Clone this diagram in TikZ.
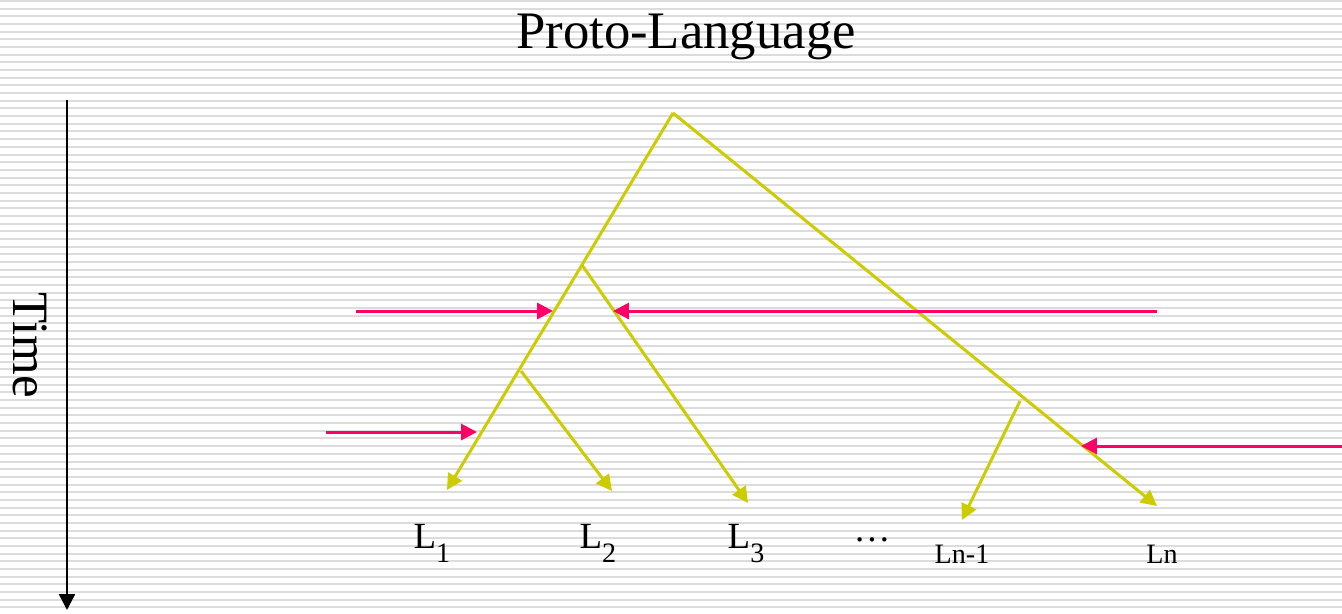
\documentclass[tikz,border=0pt]{standalone}
\usepackage{fontspec}
\setmainfont{Liberation Serif}
\usetikzlibrary{arrows.meta}
\definecolor{stripegrey}{RGB}{220,220,220}
\definecolor{branchyellow}{RGB}{204,204,0}
\definecolor{contactpink}{RGB}{255,0,102}
\newcommand{\lsub}[1]{\raisebox{-0.4em}{\fontsize{16}{16}\selectfont #1}}

\begin{document}
\begin{tikzpicture}[x=0.02cm,y=-0.02cm,
    branch/.style={branchyellow,line width=1.7pt,-{Triangle[length=9pt,width=9pt]}},
    contact/.style={contactpink,line width=1.7pt,-{Triangle[length=9pt,width=9pt]}},
    timeaxis/.style={black,line width=1.4pt,-{Triangle[length=9pt,width=9pt]}},
    lang/.style={font=\fontsize{21}{21}\selectfont,inner sep=0pt,anchor=base}]
     % striped background
     \fill[white] (0,0) rectangle (1342,613);
     \useasboundingbox (0,0) rectangle (1342,613);
     \foreach \i in {0,...,79}
       \fill[stripegrey] (0,\i*7.675) rectangle (1342,\i*7.675+2);
     % title and time axis
     \node[font=\fontsize{30}{30}\selectfont,anchor=base,inner sep=0pt] (title) at (686,48) {Proto-Language};
     \node[font=\fontsize{29}{29}\selectfont,rotate=-90] (time) at (30,345) {Time};
     \coordinate (ttop) at (67,100);
     \coordinate (tbot) at (67,610);
     \draw[timeaxis] (ttop) -- (tbot);
     % tree
     \coordinate (root) at (673,113);
     \coordinate (nA) at (582,265);
     \coordinate (nB) at (521,371);
     \coordinate (nC) at (1020,401);
     \coordinate (t1) at (447,490);
     \coordinate (t2) at (612,491);
     \coordinate (t3) at (748,503);
     \coordinate (tn1) at (962,520);
     \coordinate (tn) at (1157,506);
     \draw[branch] (root) -- (t1);
     \draw[branch] (root) -- (tn);
     \draw[branch] (nA) -- (t3);
     \draw[branch] (nB) -- (t2);
     \draw[branch] (nC) -- (tn1);
     % contact arrows
     \coordinate (c1s) at (356,311);
     \coordinate (c1e) at (553,311);
     \coordinate (c2s) at (1157,311);
     \coordinate (c2e) at (613,311);
     \coordinate (c3s) at (326,432);
     \coordinate (c3e) at (477,432);
     \coordinate (c4s) at (1342,446);
     \coordinate (c4e) at (1081,446);
     \draw[contact] (c1s) -- (c1e);
     \draw[contact] (c2s) -- (c2e);
     \draw[contact] (c3s) -- (c3e);
     \draw[contact] (c4s) -- (c4e);
     % daughter languages
     \node[lang] (l1) at (432,548) {L\lsub{1}};
     \node[lang] (l2) at (598,548) {L\lsub{2}};
     \node[lang] (l3) at (746,548) {L\lsub{3}};
     \node[lang] (dots) at (872,541) {\ldots};
     \node[lang,font=\fontsize{16}{16}\selectfont] (ln1) at (962,563) {Ln-1};
     \node[lang,font=\fontsize{16}{16}\selectfont] (ln) at (1162,563) {Ln};
   \end{tikzpicture}
\end{document}
